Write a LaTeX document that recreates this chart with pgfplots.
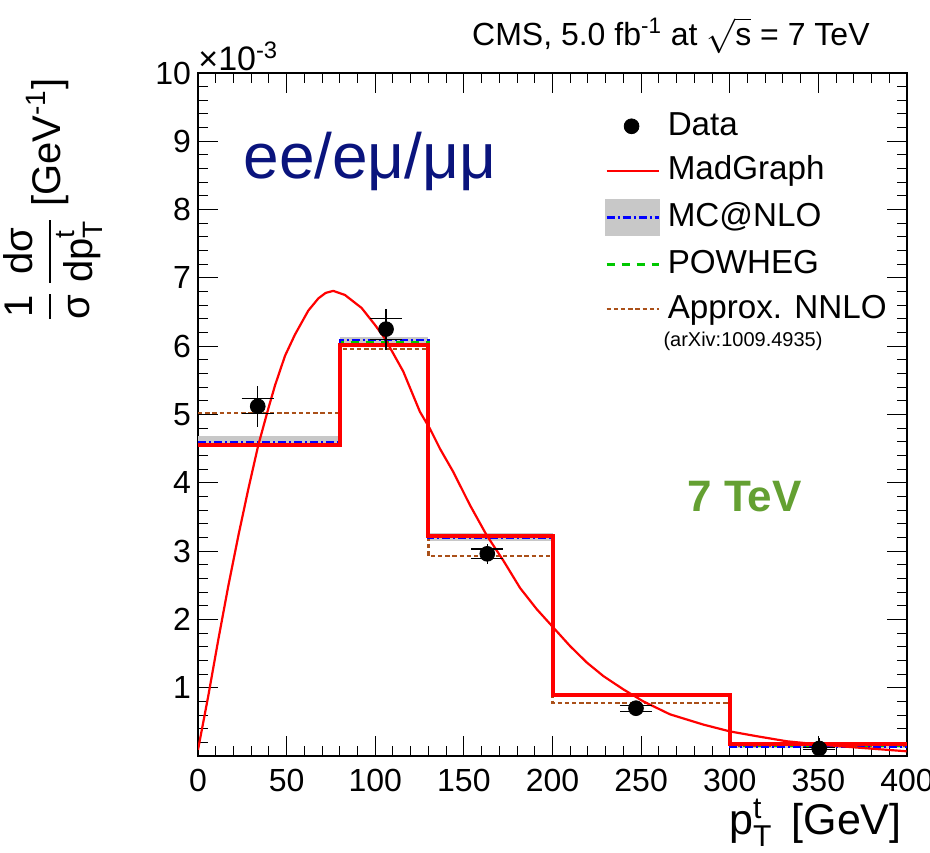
\documentclass[border=0pt]{standalone}
\usepackage{fontspec}
\setmainfont{Liberation Sans}
\usepackage{amsmath}
\usepackage{pgfplots}
\pgfplotsset{compat=1.18}

\definecolor{mgred}{RGB}{255,0,0}
\definecolor{nnlobrown}{RGB}{170,80,25}
\definecolor{powgreen}{RGB}{0,200,0}
\definecolor{mcblue}{RGB}{0,0,255}
\definecolor{bandgray}{RGB}{200,200,200}
\definecolor{chanblue}{RGB}{10,20,125}
\definecolor{tevgreen}{RGB}{100,160,50}

\begin{document}
\begin{tikzpicture}
\useasboundingbox (-99pt,-48pt) rectangle (366pt,378pt);
\begin{axis}[
  at={(0,0)}, anchor=south west,
  width=354.5pt, height=341.5pt, scale only axis,
  xmin=0, xmax=400, ymin=0, ymax=10,
  xtick={0,50,...,400}, minor x tick num=4,
  ytick={0,1,...,10}, yticklabels={,1,2,3,4,5,6,7,8,9,10}, minor y tick num=4,
  tick align=inside,
  major tick length=10pt, minor tick length=5pt,
  every tick/.style={black, line width=0.5pt},
  axis line style={line width=0.8pt},
  /pgf/number format/assume math mode=true,
  ticklabel style={font=\fontsize{16}{16}\selectfont},
  xticklabel style={yshift=-3pt},
  legend image code/.code={\draw[#1] (0pt,0pt) -- (26pt,0pt);},
  legend style={at={(rel axis cs:0.574,0.946)}, anchor=north west, draw=none, fill=none,
    inner sep=0pt, font=\fontsize{16.6}{16.6}\selectfont, row sep=6.3pt, column sep=4pt,
    nodes={inner sep=0pt, text height=12.5pt, text depth=3.5pt}},
  legend cell align=left,
]
% MC@NLO uncertainty band
\addplot[fill=bandgray, draw=none, forget plot] coordinates {(0,4.55) (80,4.55) (80,4.69) (0,4.69)} -- cycle;
\addplot[fill=bandgray, draw=none, forget plot] coordinates {(80,6.02) (130,6.02) (130,6.14) (80,6.14)} -- cycle;
\addplot[fill=bandgray, draw=none, forget plot] coordinates {(130,3.15) (200,3.15) (200,3.26) (130,3.26)} -- cycle;
\addplot[fill=bandgray, draw=none, forget plot] coordinates {(200,0.86) (300,0.86) (300,0.92) (200,0.92)} -- cycle;
\addplot[fill=bandgray, draw=none, forget plot] coordinates {(300,0.12) (400,0.12) (400,0.17) (300,0.17)} -- cycle;
% Approx. NNLO
\addplot[const plot, nnlobrown, line width=1.2pt, dash pattern=on 2.2pt off 1.4pt, forget plot]
  coordinates {(0,5.02) (80,5.96) (130,2.93) (200,0.78) (300,0.15) (400,0.15)};
% POWHEG
\addplot[const plot, powgreen, line width=1.2pt, dash pattern=on 4pt off 3.5pt, forget plot]
  coordinates {(0,4.57) (80,6.06) (130,3.21) (200,0.89) (300,0.15) (400,0.15)};
% MC@NLO
\addplot[const plot, mcblue, line width=1.2pt, dash pattern=on 4pt off 1.5pt on 1pt off 1.5pt, forget plot]
  coordinates {(0,4.59) (80,6.09) (130,3.20) (200,0.88) (300,0.14) (400,0.14)};
% MadGraph histogram
\addplot[const plot, mgred, line width=2pt, forget plot]
  coordinates {(0,4.55) (80,6.02) (130,3.22) (200,0.90) (300,0.18) (400,0.18)};
% MadGraph curve
\addplot[mgred, line width=1.1pt, line join=round, forget plot] coordinates {
(0,0.09) (5.8,0.88) (11.5,1.71) (17.1,2.49) (22.8,3.23) (28.4,3.91) (34.0,4.55)
(39.7,5.09) (43.5,5.43) (49.1,5.86) (54.7,6.17) (62.2,6.52) (67.9,6.70) (72,6.78) (76.3,6.81)
(82.9,6.75) (92.3,6.56) (99.9,6.31) (105.5,6.11) (115.8,5.63) (125.2,5.04) (130.9,4.79)
(136.5,4.50) (144,4.16) (153.5,3.67) (162.9,3.23) (172.3,2.86) (181.7,2.46) (191.1,2.15)
(200.5,1.88) (209.9,1.61) (219.3,1.37) (228.7,1.17) (240,0.975) (251.2,0.80) (266.3,0.61)
(285.1,0.46) (300.1,0.36) (315.2,0.29) (332.1,0.216) (350.9,0.167) (369.7,0.128) (399.8,0.069)};
% Data: total uncertainty
\addplot[draw=none, mark=none, forget plot, error bars/.cd, y dir=both, y explicit, error mark=none,
  error bar style={black, line width=0.6pt}] coordinates {
(33.7,5.12) +- (0,0.30) (106.1,6.25) +- (0,0.30) (163.2,2.96) +- (0,0.15)
(247.1,0.70) +- (0,0.08) (350.5,0.11) +- (0,0.16)};
% Data: statistical caps
\addplot[draw=none, mark=none, forget plot, error bars/.cd, y dir=both, y explicit, error mark=|,
  error mark options={black, mark size=8pt, line width=0.6pt},
  error bar style={black, line width=0.6pt}] coordinates {
(33.7,5.12) +- (0,0.11) (106.1,6.25) +- (0,0.15) (163.2,2.96) +- (0,0.07)
(247.1,0.70) +- (0,0.045) (350.5,0.11) +- (0,0.02)};
% Data points
\addplot[only marks, mark=*, mark size=3.7pt, black, forget plot] coordinates {
(33.7,5.12) (106.1,6.25) (163.2,2.96) (247.1,0.70) (350.5,0.11)};

\addlegendimage{black, legend image code/.code={\fill[black] (12.5pt,0pt) circle[radius=3.7pt];}}
\addlegendentry{Data}
\addlegendimage{mgred, line width=1.1pt}
\addlegendentry{MadGraph}
\addlegendimage{mcblue, line width=1.2pt, legend image code/.code={\fill[bandgray] (0pt,-8.5pt) rectangle (26pt,8.5pt); \draw[mcblue, line width=1.2pt, dash pattern=on 4pt off 1.5pt on 1pt off 1.5pt] (0pt,0pt) -- (26pt,0pt);}}
\addlegendentry{MC@NLO}
\addlegendimage{powgreen, line width=1.2pt, dash pattern=on 4pt off 3.5pt}
\addlegendentry{POWHEG}
\addlegendimage{nnlobrown, line width=1.2pt, dash pattern=on 2.2pt off 1.4pt}
\addlegendentry{Approx. NNLO}

\node[anchor=base west, font=\fontsize{10}{10}\selectfont, inner sep=0pt] at (rel axis cs:0.656,0.600) {(arXiv:1009.4935)};
\node[anchor=base west, text=chanblue, font=\fontsize{32}{32}\selectfont, inner sep=0pt] at (rel axis cs:0.0635,0.846) {ee/eμ/μμ};
\node[anchor=base west, text=tevgreen, font=\bfseries\fontsize{22}{22}\selectfont, inner sep=0pt] at (rel axis cs:0.690,0.358) {7 TeV};
\end{axis}
\node[anchor=base west, font=\fontsize{17}{17}\selectfont, inner sep=0pt] at (0pt,342.5pt) {×10\textsuperscript{-3}};
\node[anchor=base east, font=\fontsize{16}{16}\selectfont, inner sep=0pt] at (336pt,355pt) {CMS, 5.0 fb\textsuperscript{-1} at $\sqrt{\text{s}}$ = 7 TeV};
\node[anchor=base east, font=\fontsize{21.5}{21.5}\selectfont, inner sep=0pt] at (352pt,-39pt) {p$^{\text{t}}_{\text{T}}$\, [GeV]};
\node[rotate=90, anchor=east, font=\fontsize{20}{20}\selectfont, inner sep=0pt] at (-72.5pt,339pt) {$\dfrac{\text{1}}{\text{σ}}\,\dfrac{\text{dσ}}{\text{dp}^{\text{t}}_{\text{T}}}$ [GeV\textsuperscript{-1}]};
\end{tikzpicture}
\end{document}
